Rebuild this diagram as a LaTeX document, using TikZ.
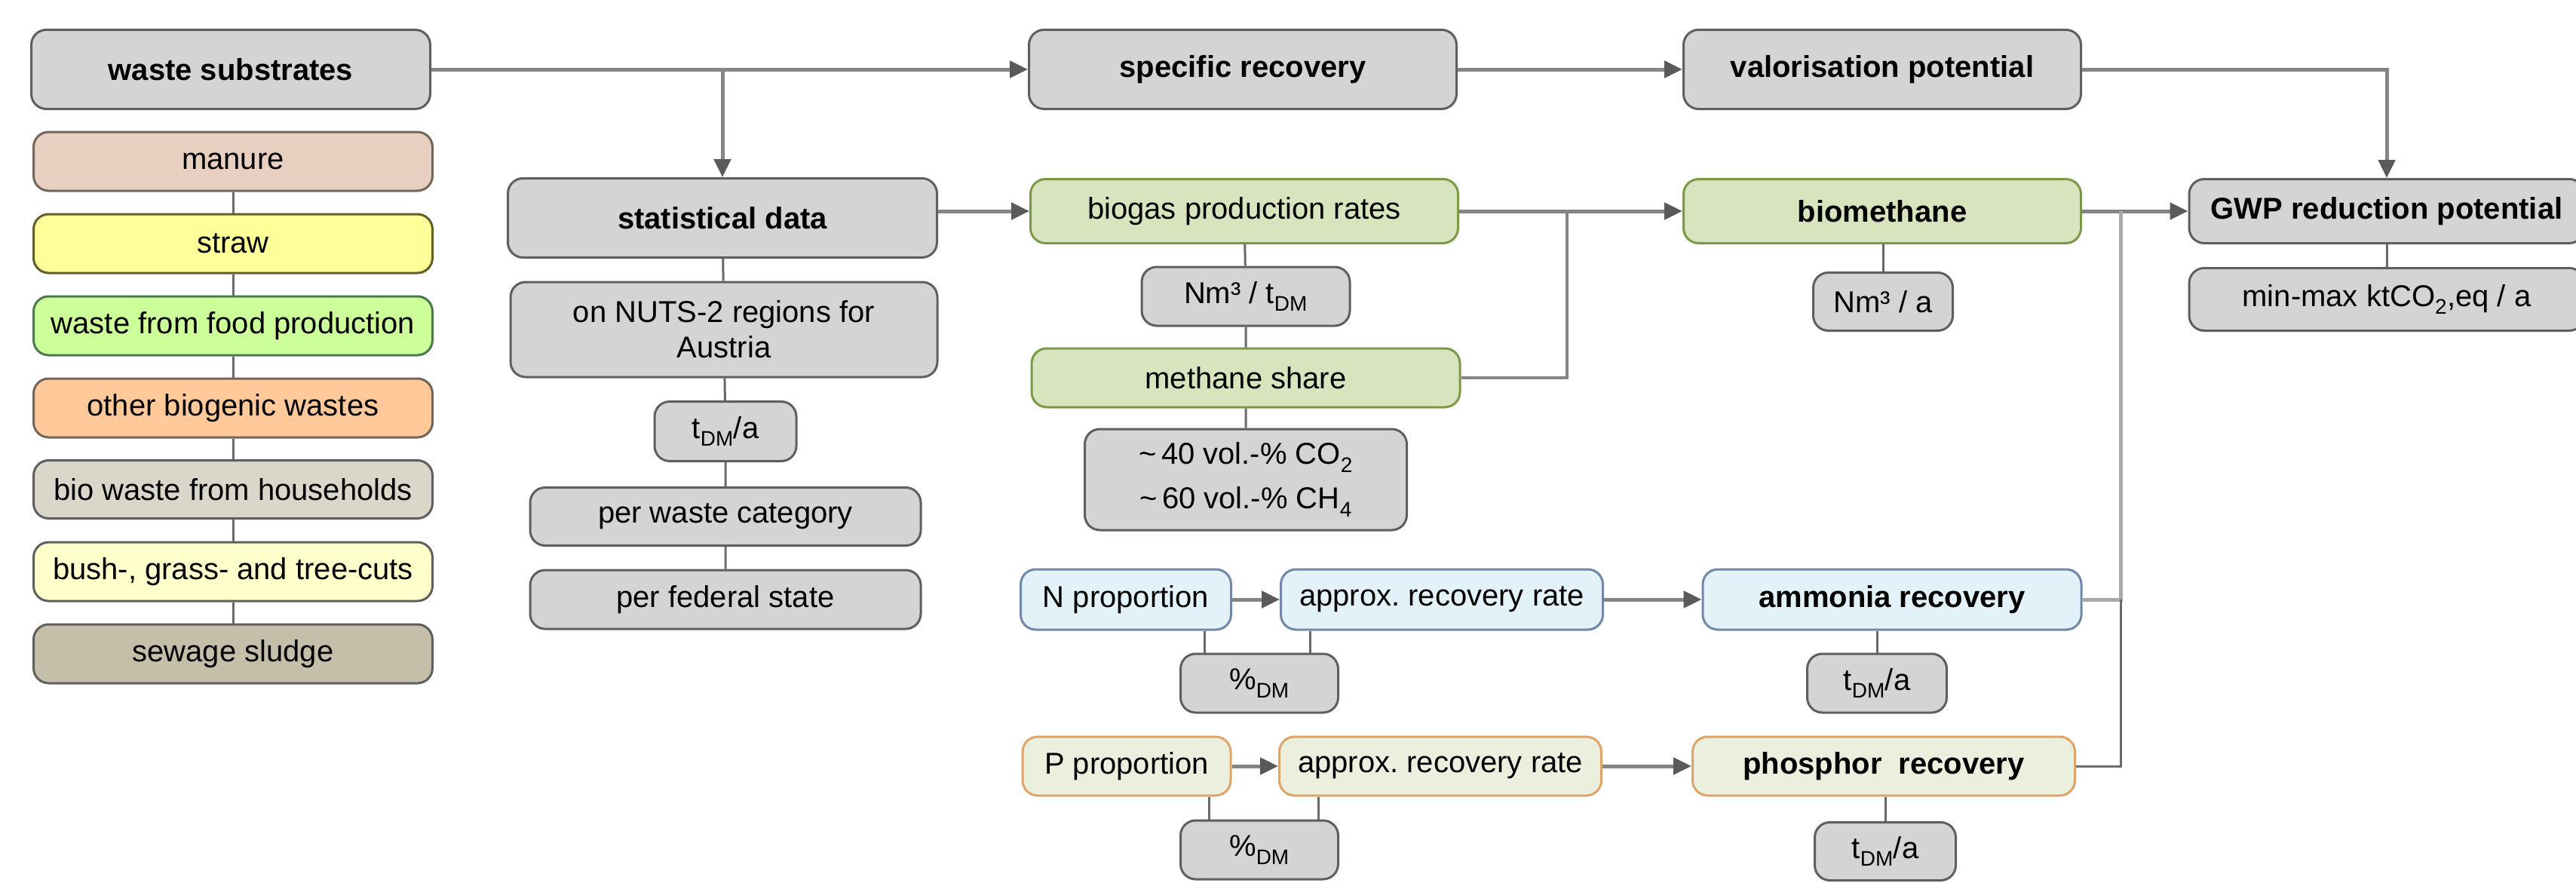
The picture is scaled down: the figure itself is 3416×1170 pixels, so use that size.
\documentclass[tikz,border=0pt]{standalone}
\usepackage{fontspec}
\setmainfont{Liberation Sans}
\usepackage{tikz}
\usetikzlibrary{arrows.meta,positioning}

\definecolor{boxgrey}{HTML}{D4D4D4}
\definecolor{boxline}{HTML}{5F5F5F}
\definecolor{linegrey}{HTML}{858585}
\definecolor{tipgrey}{HTML}{5A5A5A}
\definecolor{linkgrey}{HTML}{6A6A6A}
\definecolor{manurefill}{HTML}{E7D0C0}
\definecolor{strawfill}{HTML}{FFFF99}
\definecolor{foodfill}{HTML}{CCFF99}
\definecolor{otherfill}{HTML}{FFC99A}
\definecolor{biofill}{HTML}{DAD7CA}
\definecolor{bushfill}{HTML}{FFFFCC}
\definecolor{sewagefill}{HTML}{C5BEA8}
\definecolor{gasfill}{HTML}{D7E4BD}
\definecolor{gasline}{HTML}{7A9A48}
\definecolor{nfill}{HTML}{E3F1F8}
\definecolor{nline}{HTML}{7089A8}
\definecolor{pfill}{HTML}{EBF0DE}
\definecolor{pline}{HTML}{E0A468}

\frenchspacing

\begin{document}
\begin{tikzpicture}[x=1pt,y=1pt,
  box/.style={draw=boxline,fill=boxgrey,rounded corners=20pt,line width=3pt,align=center,inner sep=0pt,font=\fontsize{40}{47}\selectfont},
  head/.style={box,font=\fontsize{40}{47}\selectfont\bfseries},
  wh/.style 2 args={minimum width=#1pt,minimum height=#2pt},
  gas/.style={fill=gasfill,draw=gasline},
  nbox/.style={fill=nfill,draw=nline},
  pbox/.style={fill=pfill,draw=pline},
  conn/.style={draw=linegrey,line width=5pt,-{Triangle[length=24pt,width=22pt,color=tipgrey]}},
  link/.style={draw=linkgrey,line width=3pt}
]
  \useasboundingbox (0,0) rectangle (3416,-1170);

  % substrates
  \node[head,wh={529}{105}] (ws) at (306,-92) {waste substrates};
  \node[box,wh={529}{78},fill=manurefill,draw=boxline!80!brown] (manure) at (309,-214) {manure};
  \node[box,wh={529}{78},fill=strawfill,draw=olive!60!black] (straw) at (309,-323) {straw};
  \node[box,wh={529}{78},fill=foodfill,draw=green!25!black!70] (food) at (309,-432) {waste from food production};
  \node[box,wh={529}{78},fill=otherfill,draw=boxline!80!brown] (other) at (309,-541) {other biogenic wastes};
  \node[box,wh={529}{77},fill=biofill] (bio) at (309,-649) {bio waste from households};
  \node[box,wh={529}{78},fill=bushfill] (bush) at (309,-758) {bush-, grass- and tree-cuts};
  \node[box,wh={529}{78},fill=sewagefill] (sewage) at (309,-867) {sewage sludge};

  % statistics
  \node[head,wh={569}{105}] (stat) at (958,-289) {statistical data};
  \node[box,wh={566}{126}] (nuts) at (960,-437) {on NUTS-2 regions for\\Austria};
  \node[box,wh={188}{79}] (tdm) at (962,-572) {t\textsubscript{DM}/a};
  \node[box,wh={518}{77}] (cat) at (962,-685) {per waste category};
  \node[box,wh={518}{78}] (fed) at (962,-795) {per federal state};

  % recovery
  \node[head,wh={567}{105}] (spec) at (1648,-92) {specific recovery};
  \node[head,wh={527}{105}] (valor) at (2496,-92) {valorisation potential};
  \node[box,gas,wh={567}{85}] (biogas) at (1650,-280) {biogas production rates};
  \node[box,wh={276}{78}] (nmt) at (1652,-393) {Nm³ / t\textsubscript{DM}};
  \node[box,gas,wh={568}{78}] (share) at (1652,-501) {methane share};
  \node[box,wh={427}{134},font=\fontsize{40}{59}\selectfont] (vol) at (1652,-636)
    {\textasciitilde\,40 vol.-\% CO\textsubscript{2}\\\textasciitilde\,60 vol.-\% CH\textsubscript{4}};
  \node[head,gas,wh={527}{85}] (biometh) at (2496,-280) {biomethane};
  \node[box,wh={185}{77}] (nma) at (2497,-400) {Nm³ / a};

  \node[box,nbox,wh={279}{80}] (nprop) at (1493,-795) {N proportion};
  \node[box,nbox,wh={427}{80}] (nrate) at (1912,-795) {approx. recovery rate};
  \node[head,nbox,wh={502}{80}] (amm) at (2509,-795) {ammonia recovery};
  \node[box,wh={209}{78}] (ndm) at (1670,-906) {\%\textsubscript{DM}};
  \node[box,wh={185}{78}] (namm) at (2489,-906) {t\textsubscript{DM}/a};

  \node[box,pbox,wh={276}{78}] (pprop) at (1494,-1016) {P proportion};
  \node[box,pbox,wh={427}{78}] (prate) at (1910,-1016) {approx. recovery rate};
  \node[head,pbox,wh={507}{78}] (phos) at (2498,-1016) {phosphor\ \ recovery};
  \node[box,wh={209}{78}] (pdm) at (1670,-1127) {\%\textsubscript{DM}};
  \node[box,wh={187}{77}] (pphos) at (2500,-1129) {t\textsubscript{DM}/a};

  % result
  \node[head,wh={524}{85}] (gwp) at (3165,-280) {GWP reduction potential};
  \node[box,wh={524}{83}] (minmax) at (3165,-397) {min-max ktCO\textsubscript{2},eq / a};

  \coordinate (jbio) at (2078,-280);
  \coordinate (jgwp) at (2812,-280);

  % main flow
  \draw[conn] (ws) -- (spec);
  \draw[conn] (ws.east) -| (stat.north);
  \draw[conn] (spec) -- (valor);
  \draw[conn] (valor.east) -| (gwp.north);
  \draw[conn] (stat.east |- biogas.west) -- (biogas);
  \draw[conn] (biogas) -- (biometh);
  \draw[conn] (biometh) -- (gwp);
  \draw[link,draw=linegrey,line width=4pt] (share.east) -| (jbio);
  \draw[link,draw=linegrey!70,line width=5pt] (amm.east) -| (jgwp);
  \draw[link] (phos.east) -| (jgwp |- amm.east);
  \draw[conn] (nprop) -- (nrate);
  \draw[conn] (nrate) -- (amm);
  \draw[conn] (pprop) -- (prate);
  \draw[conn] (prate) -- (phos);

  % attributes
  \draw[link] (manure) -- (straw) -- (food) -- (other) -- (bio) -- (bush) -- (sewage);
  \draw[link] (stat) -- (nuts) -- (tdm) -- (cat) -- (fed);
  \draw[link] (biogas) -- (nmt) -- (share) -- (vol);
  \draw[link] (biometh.south -| nma) -- (nma);
  \draw[link] (gwp) -- (minmax);
  \draw[link] ([xshift=-73pt]ndm.north) -- ([xshift=-73pt]ndm.north |- nprop.south);
  \draw[link] ([xshift=67pt]ndm.north) -- ([xshift=67pt]ndm.north |- nrate.south);
  \draw[link] (namm.north |- amm.south) -- (namm);
  \draw[link] ([xshift=-67pt]pdm.north) -- ([xshift=-67pt]pdm.north |- pprop.south);
  \draw[link] ([xshift=78pt]pdm.north) -- ([xshift=78pt]pdm.north |- prate.south);
  \draw[link] (pphos.north |- phos.south) -- (pphos);
\end{tikzpicture}
\end{document}
